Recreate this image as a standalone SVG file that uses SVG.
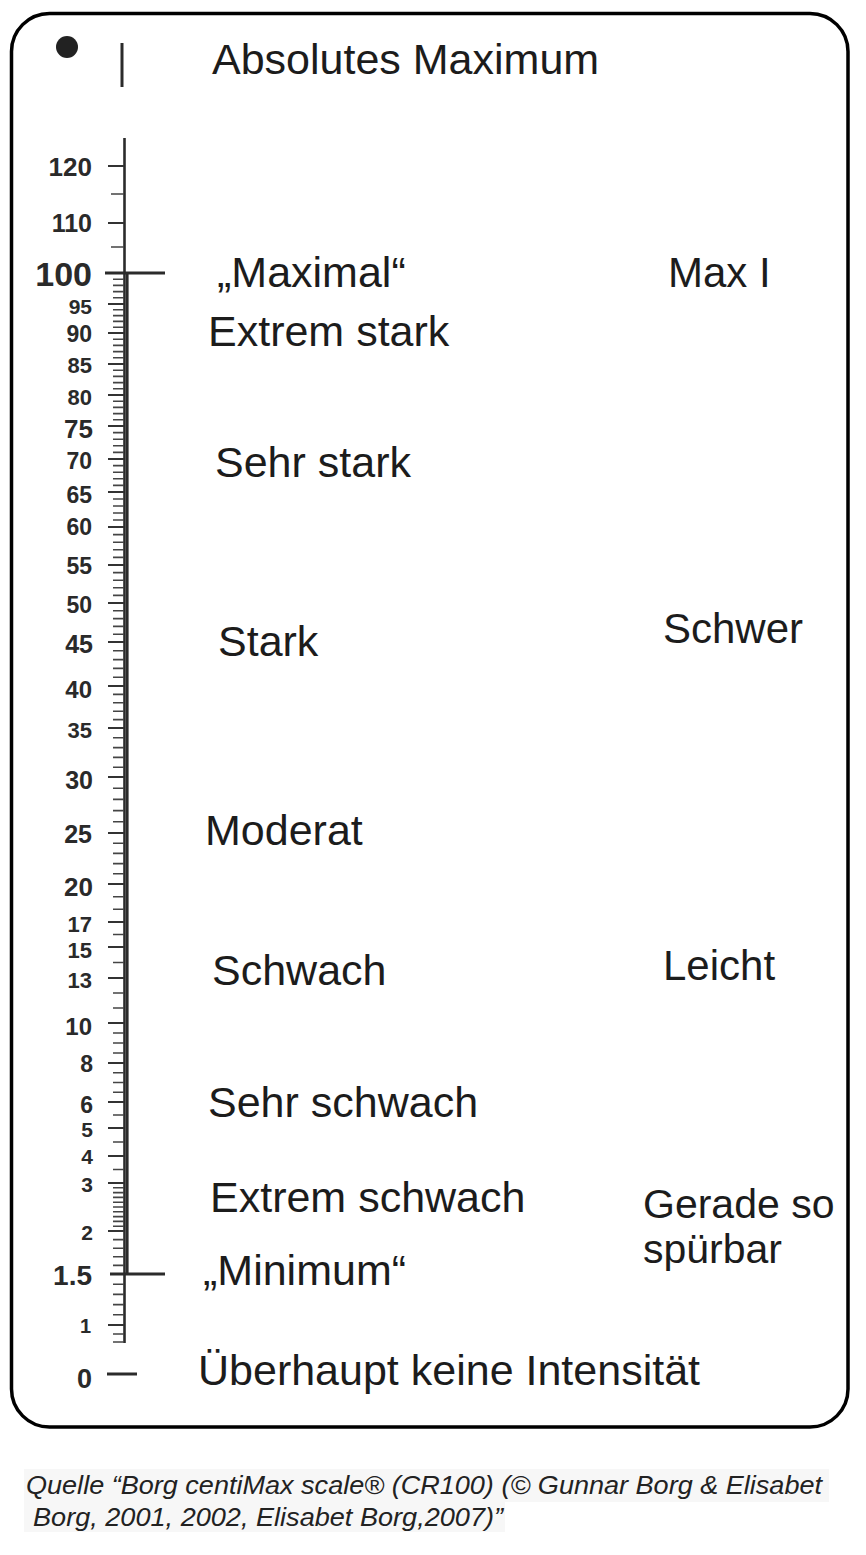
<svg xmlns="http://www.w3.org/2000/svg" width="866" height="1555" viewBox="0 0 866 1555">
<style>
.lbl{font-family:"Liberation Sans",Arial,sans-serif;font-size:43px;fill:#1c1c1c}
.rl{font-size:42px}
.num{font-family:"Liberation Sans",Arial,sans-serif;font-weight:bold;fill:#2a2a2a;text-anchor:end}
.cap{font-family:"Liberation Sans",Arial,sans-serif;font-style:italic;font-size:25px;fill:#222}
.major{stroke:#333;stroke-width:2;fill:none}
.minor{stroke:#444;stroke-width:1.6;fill:none}
.axis{stroke:#2b2b2b;fill:none}
</style>
<rect x="0" y="0" width="866" height="1555" fill="#fff"/>
<rect id="frame" x="11.5" y="13.5" width="836.5" height="1413.5" rx="38" ry="38" fill="#fff" stroke="#000" stroke-width="3.5"/>

<g id="top-marker">
<circle cx="67" cy="47" r="11" fill="#222"/>
<line x1="122" y1="43" x2="122" y2="87" class="axis" stroke-width="3"/>
</g>

<g id="axis">
<line x1="124.5" y1="138" x2="124.5" y2="1343" class="axis" stroke-width="2.6"/>
<line x1="127.3" y1="273" x2="127.3" y2="1275" class="axis" stroke-width="2.6" stroke="#3a3a3a"/>
<line x1="105" y1="273" x2="165" y2="273" class="axis" stroke-width="3"/>
<line x1="110" y1="1274" x2="165" y2="1274" class="axis" stroke-width="3"/>
<line x1="107" y1="1374" x2="137" y2="1374" class="axis" stroke-width="3"/>
<path class="major" d="M108 166H124M108 223H124M108 304H124M108 333H124M108 364H124M108 395H124M108 426H124M108 459H124M108 492H124M108 527H124M108 565H124M108 603H124M108 642H124M108 686H124M108 728H124M108 777H124M108 833H124M108 884H124M108 922H124M108 947H124M108 978H124M108 1023H124M108 1063H124M108 1102H124M108 1128H124M108 1156H124M108 1183H124M108 1231H124M108 1325H124"/>
<path class="minor" d="M111 194H124M111 247H124
M113 279.2H124M113 285.4H124M113 291.6H124M113 297.8H124
M113 309.8H124M113 315.6H124M113 321.4H124M113 327.2H124
M113 339.2H124M113 345.4H124M113 351.6H124M113 357.8H124
M113 370.2H124M113 376.4H124M113 382.6H124M113 388.8H124
M113 401.2H124M113 407.4H124M113 413.6H124M113 419.8H124
M113 432.6H124M113 439.2H124M113 445.8H124M113 452.4H124
M113 465.6H124M113 472.2H124M113 478.8H124M113 485.4H124
M113 499H124M113 506H124M113 513H124M113 520H124
M113 534.6H124M113 542.2H124M113 549.8H124M113 557.4H124
M113 572.6H124M113 580.2H124M113 587.8H124M113 595.4H124
M113 610.8H124M113 618.6H124M113 626.4H124M113 634.2H124
M113 650.8H124M113 659.6H124M113 668.4H124M113 677.2H124
M113 694.4H124M113 702.8H124M113 711.2H124M113 719.6H124
M113 737.8H124M113 747.6H124M113 757.4H124M113 767.2H124
M113 788.2H124M113 799.4H124M113 810.6H124M113 821.8H124
M113 843.2H124M113 853.4H124M113 863.6H124M113 873.8H124
M113 896.7H124M113 909.3H124M113 934.5H124M113 962.5H124
M113 993H124M113 1008H124
M113 1033H124M113 1043H124M113 1053H124
M113 1072.8H124M113 1082.5H124M113 1092.3H124
M113 1115H124M113 1142H124M113 1169.5H124
M113 1187.8H124M113 1192.6H124M113 1197.4H124M113 1202.2H124M113 1207H124M113 1211.8H124M113 1216.6H124M113 1221.4H124M113 1226.2H124
M113 1239.6H124M113 1248.2H124M113 1256.8H124M113 1265.4H124
M113 1284.2H124M113 1294.4H124M113 1304.6H124M113 1314.8H124
M113 1334H124M113 1342H124"/>
</g>

<g id="numbers">
<text class="num" x="92" y="176" font-size="26">120</text>
<text class="num" x="92" y="232" font-size="25">110</text>
<text class="num" x="92" y="286" font-size="34">100</text>
<text class="num" x="92" y="314" font-size="21">95</text>
<text class="num" x="92" y="342" font-size="23">90</text>
<text class="num" x="92" y="373" font-size="22">85</text>
<text class="num" x="92" y="405" font-size="22">80</text>
<text class="num" x="93" y="438" font-size="26">75</text>
<text class="num" x="92" y="469" font-size="23">70</text>
<text class="num" x="92" y="503" font-size="23">65</text>
<text class="num" x="92" y="535" font-size="23">60</text>
<text class="num" x="92" y="574" font-size="23">55</text>
<text class="num" x="92" y="613" font-size="23">50</text>
<text class="num" x="93" y="653" font-size="25">45</text>
<text class="num" x="92" y="698" font-size="24">40</text>
<text class="num" x="92" y="738" font-size="22">35</text>
<text class="num" x="93" y="789" font-size="25">30</text>
<text class="num" x="92" y="843" font-size="25">25</text>
<text class="num" x="93" y="896" font-size="26">20</text>
<text class="num" x="92" y="932" font-size="22">17</text>
<text class="num" x="92" y="958" font-size="22">15</text>
<text class="num" x="92" y="988" font-size="22">13</text>
<text class="num" x="92" y="1035" font-size="24">10</text>
<text class="num" x="93" y="1072" font-size="23">8</text>
<text class="num" x="93" y="1113" font-size="23">6</text>
<text class="num" x="93" y="1137" font-size="21">5</text>
<text class="num" x="93" y="1164" font-size="21">4</text>
<text class="num" x="93" y="1192" font-size="21">3</text>
<text class="num" x="93" y="1240" font-size="21">2</text>
<text class="num" x="92" y="1285" font-size="28">1.5</text>
<text class="num" x="91" y="1333" font-size="20">1</text>
<text class="num" x="92" y="1388" font-size="27">0</text>
</g>

<g id="labels-left">
<text class="lbl" x="212" y="74">Absolutes Maximum</text>
<text class="lbl" x="217" y="287">„Maximal“</text>
<text class="lbl" x="208" y="346">Extrem stark</text>
<text class="lbl" x="215" y="477">Sehr stark</text>
<text class="lbl" x="218" y="656">Stark</text>
<text class="lbl" x="205" y="845">Moderat</text>
<text class="lbl" x="212" y="985">Schwach</text>
<text class="lbl" x="208" y="1117">Sehr schwach</text>
<text class="lbl" x="210" y="1212">Extrem schwach</text>
<text class="lbl" x="203" y="1285">„Minimum“</text>
<text class="lbl" x="198" y="1385">Überhaupt keine Intensität</text>
</g>

<g id="labels-right">
<text class="lbl rl" x="668" y="287">Max I</text>
<text class="lbl rl" x="663" y="643">Schwer</text>
<text class="lbl rl" x="663" y="980">Leicht</text>
<text class="lbl" x="643" y="1218" style="font-size:41px">Gerade so</text>
<text class="lbl" x="643" y="1263" style="font-size:41px">spürbar</text>
</g>

<g id="caption">
<rect x="24" y="1469" width="805" height="33" fill="#f7f7f7"/>
<rect x="24" y="1502" width="481" height="30" fill="#f7f7f7"/>
<text class="cap" x="26" y="1494" textLength="796" lengthAdjust="spacingAndGlyphs">Quelle “Borg centiMax scale® (CR100) (© Gunnar Borg &amp; Elisabet</text>
<text class="cap" x="33" y="1526" textLength="470" lengthAdjust="spacingAndGlyphs">Borg, 2001, 2002, Elisabet Borg,2007)”</text>
</g>
</svg>
